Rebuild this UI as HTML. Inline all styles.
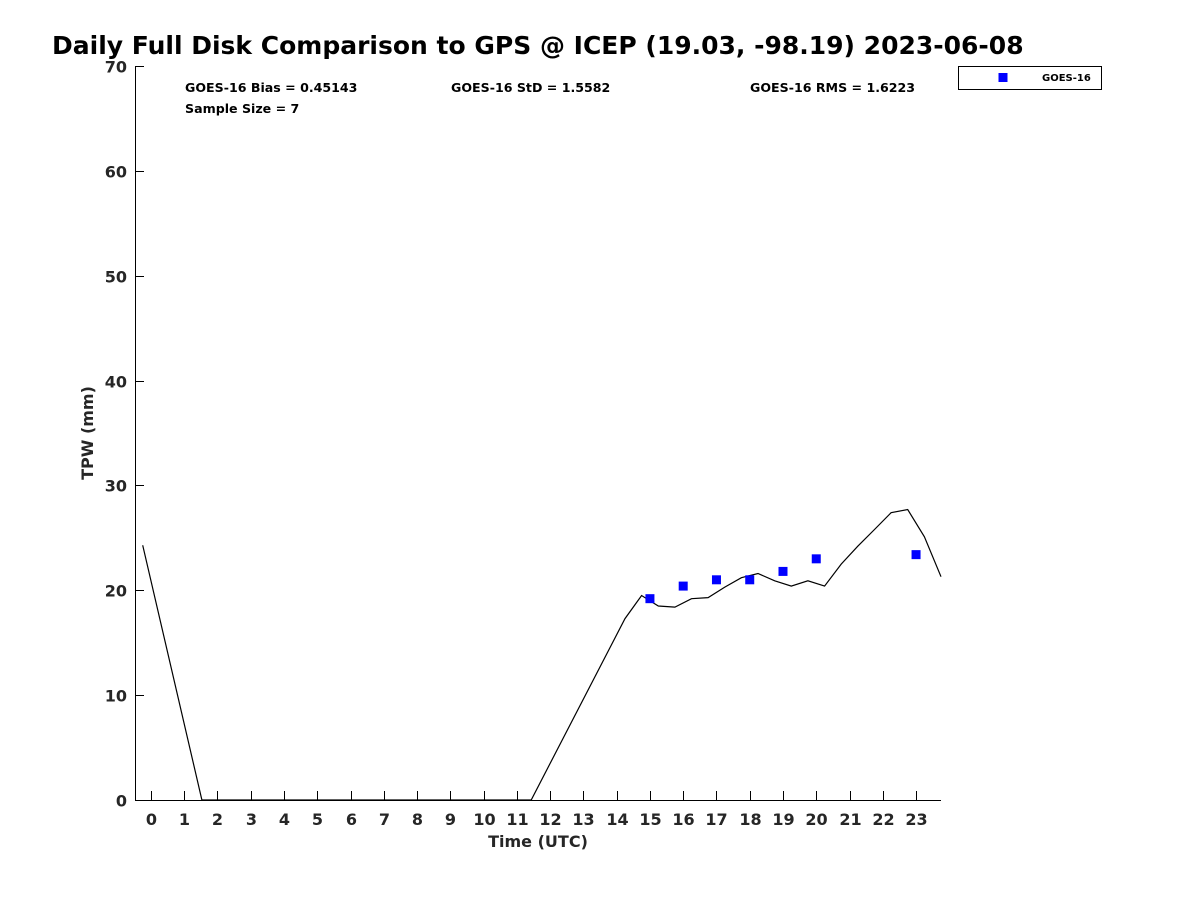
<!DOCTYPE html>
<html><head><meta charset="utf-8"><style>
body{margin:0;background:#fff;}
svg text{font-family:"DejaVu Sans","Liberation Sans",sans-serif;font-weight:bold;}
</style></head><body>
<svg id="chart" width="1200" height="900" xmlns="http://www.w3.org/2000/svg">
<text x="52" y="54" font-size="25" fill="#000">Daily Full Disk Comparison to GPS @ ICEP (19.03, -98.19) 2023-06-08</text>
<g id="axes"></g>
<g id="marks"></g>
<text x="185" y="92" font-size="12.6">GOES-16 Bias = 0.45143</text>
<text x="451" y="92" font-size="12.6">GOES-16 StD = 1.5582</text>
<text x="750" y="92" font-size="12.6">GOES-16 RMS = 1.6223</text>
<text x="185" y="113" font-size="12.6">Sample Size = 7</text>
<g>
<rect x="958.5" y="66.5" width="143" height="23" fill="#fff" stroke="#000" stroke-width="1"/>
<rect x="998.5" y="73" width="9" height="9" fill="#0000ff"/>
<text x="1042" y="81" font-size="10">GOES-16</text>
</g>
<text x="538" y="847" font-size="16" text-anchor="middle" fill="#262626">Time (UTC)</text>
<text transform="translate(93,433) rotate(-90)" font-size="16" text-anchor="middle" fill="#262626">TPW (mm)</text>
</svg>
<script>
const gpsTimes=[-0.25,1.53,11.43,14.25,14.75,15.25,15.75,16.25,16.75,17.25,17.75,18.25,18.75,19.25,19.75,20.25,20.75,21.25,21.75,22.25,22.75,23.25,23.75];
const gpsValues=[24.3,0,0,17.3,19.5,18.5,18.4,19.2,19.3,20.3,21.2,21.6,20.9,20.4,20.9,20.4,22.5,24.2,25.8,27.4,27.7,25.1,21.3];
const goesTimes=[15,16,17,18,19,20,23];
const goesValues=[19.2,20.4,21.0,21.0,21.8,23.0,23.4];
const xTicks=[0,1,2,3,4,5,6,7,8,9,10,11,12,13,14,15,16,17,18,19,20,21,22,23];
const yTicks=[0,10,20,30,40,50,60,70];
const NS="http://www.w3.org/2000/svg";
const X0=135,X1=941,Y0=800,Y1=66,xmin=-0.48,xmax=23.75,ymin=0,ymax=70;
function sx(v){return X0+(v-xmin)/(xmax-xmin)*(X1-X0);}
function sy(v){return Y0-(v-ymin)/(ymax-ymin)*(Y0-Y1);}
function mk(t,a,p){const e=document.createElementNS(NS,t);for(const k in a)e.setAttribute(k,a[k]);p.appendChild(e);return e;}
const ax=document.getElementById('axes'),mg=document.getElementById('marks');
const pts=gpsTimes.map((t,i)=>sx(t).toFixed(1)+','+sy(gpsValues[i]).toFixed(1)).join(' ');
let pl=mk('polyline',{points:pts,fill:'none',stroke:'#000','stroke-width':1.2},mg);


let l=mk('path',{d:`M${X0+.5},${Y1} V${Y0+.5} H${X1}`,stroke:'#000',fill:'none','stroke-width':1},ax);


xTicks.forEach(t=>{const x=Math.round(sx(t))+.5;
 let k=mk('line',{x1:x,x2:x,y1:Y0,y2:Y0-9,stroke:'#000'},ax);
 
 
 let tx=mk('text',{x:x,y:825,'font-size':16,'text-anchor':'middle',fill:'#262626'},ax);tx.textContent=t;
 
 
});
yTicks.forEach(t=>{const y=Math.round(sy(t))+.5;
 let k=mk('line',{x1:X0,x2:X0+9,y1:y,y2:y,stroke:'#000'},ax);
 
 
 let tx=mk('text',{x:127,y:y+6,'font-size':16,'text-anchor':'end',fill:'#262626'},ax);tx.textContent=t;
 
 
});
goesTimes.forEach((t,i)=>{
 let r=mk('rect',{x:sx(t)-4.5,y:sy(goesValues[i])-4.5,width:9,height:9,fill:'#0000ff'},mg);
 
 
});
</script>
</body></html>
